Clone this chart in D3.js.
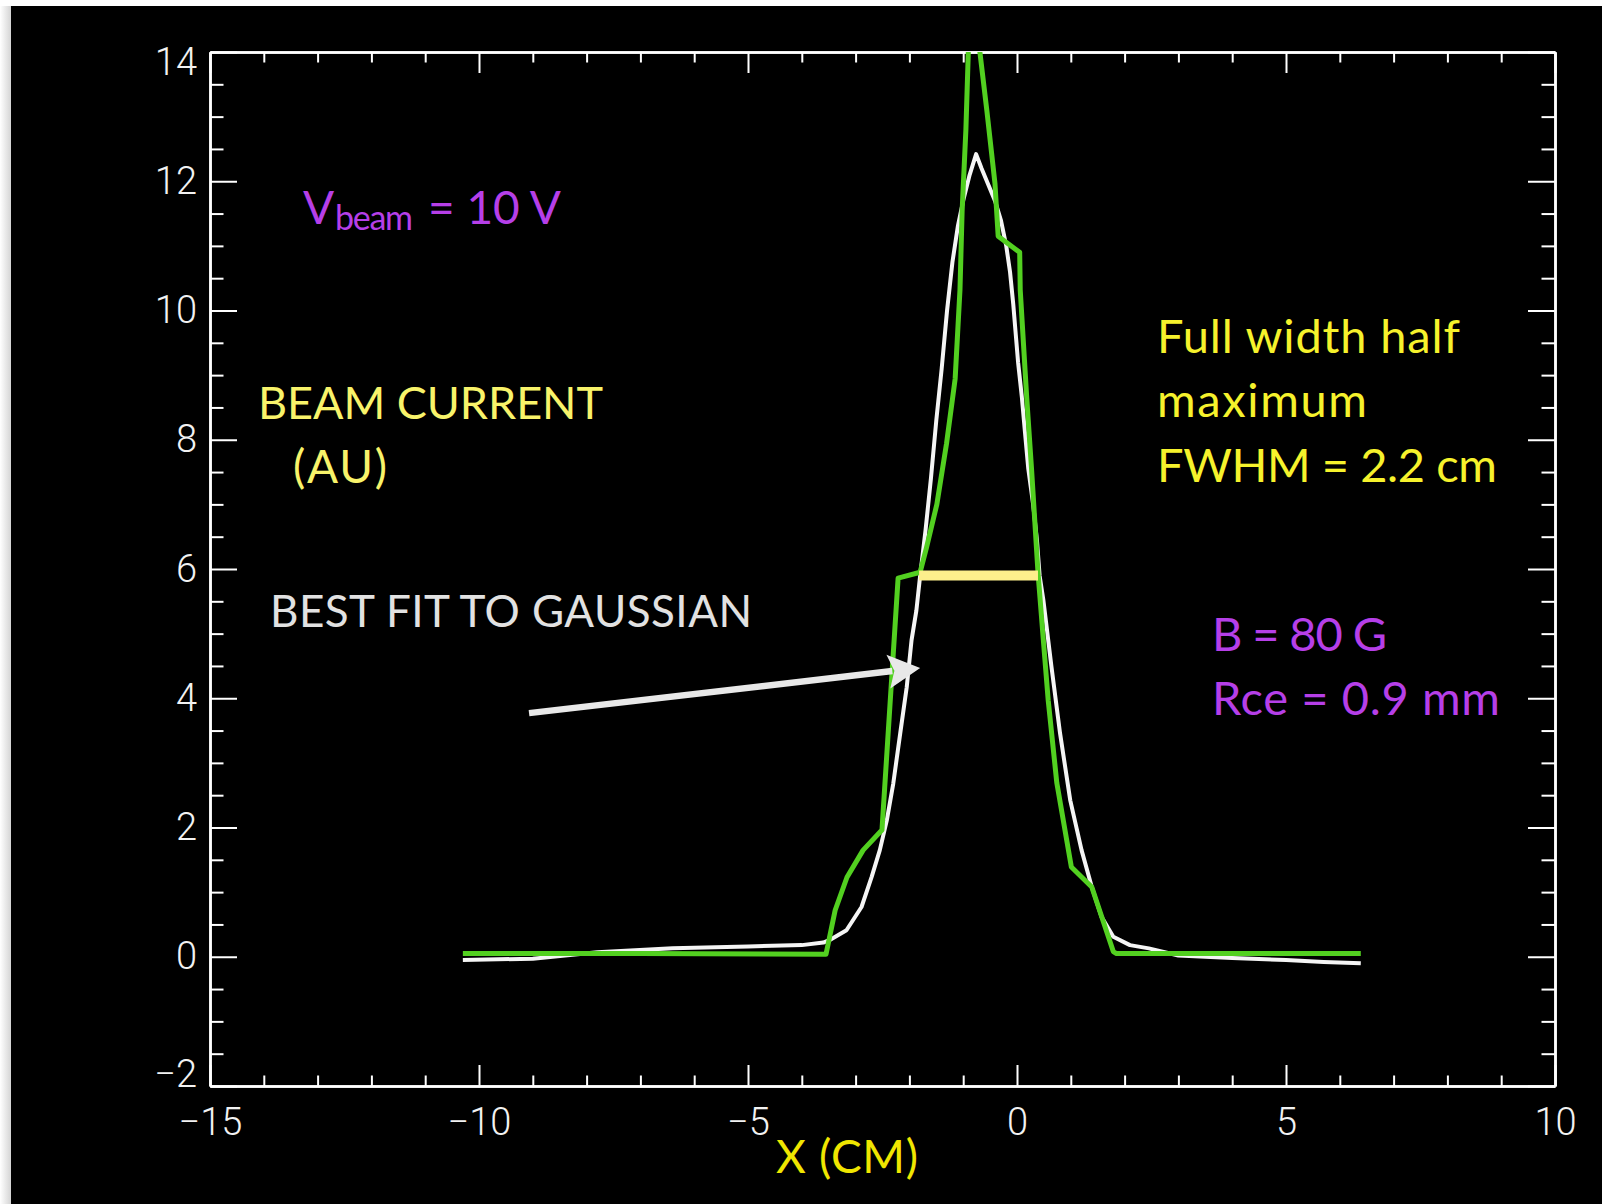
<!DOCTYPE html>
<html>
<head>
<meta charset="utf-8">
<script src="https://cdn.jsdelivr.net/npm/d3@7"></script>
<style>
  html, body { margin: 0; padding: 0; background: #fff; }
  #grafico { width: 1602px; height: 1204px; }
</style>
</head>
<body>
<div id="grafico"></div>
<script>

// ticks
const xMajorTicks = [-15, -10, -5, 0, 5, 10];
const yMajorTicks = [-2, 0, 2, 4, 6, 8, 10, 12, 14];

// measured beam profile (green)
const medidoX = [-10.30, -7.00, -3.55, -3.38, -3.16, -2.86, -2.51, -2.21, -1.80, -1.68, -1.49, -1.31, -1.15, -1.06, -1.02, -0.95, -0.86,
  -0.69, -0.56, -0.41, -0.35, 0.05, 0.06, 0.18, 0.27, 0.39, 0.48, 0.58, 0.74, 1.01, 1.39, 1.79, 1.85, 4.00, 6.39];
const medidoY = [0.05, 0.05, 0.04, 0.72, 1.23, 1.65, 1.96, 5.86, 5.95, 6.34, 7.00, 7.94, 8.94, 10.32, 11.54, 12.80, 15.20,
  14.00, 13.09, 11.97, 11.15, 10.90, 10.32, 8.66, 7.55, 5.95, 5.00, 3.97, 2.69, 1.39, 1.08, 0.08, 0.05, 0.05, 0.05];

// gaussian fit (white)
const ajusteX = [-10.30, -9.00, -7.80, -6.40, -5.00, -4.00, -3.60, -3.48, -3.17, -2.89, -2.70, -2.55, -2.42, -2.30, -2.17, -2.05,
  -1.96, -1.87, -1.80, -1.70, -1.60, -1.50, -1.40, -1.30, -1.20, -1.10, -1.00, -0.88, -0.76, -0.66, -0.56, -0.41, -0.30, -0.20,
  -0.13, -0.07, -0.02, 0.02, 0.09, 0.15, 0.21, 0.30, 0.37, 0.42, 0.49, 0.64, 0.80, 0.99, 1.20, 1.39, 1.57, 1.79, 2.10, 2.45,
  3.00, 4.00, 5.00, 5.70, 6.39];
const ajusteY = [-0.05, -0.03, 0.07, 0.13, 0.16, 0.18, 0.22, 0.26, 0.41, 0.77, 1.24, 1.65, 2.11, 2.68, 3.46, 4.17,
  4.90, 5.36, 5.90, 6.60, 7.40, 8.30, 9.10, 10.00, 10.75, 11.30, 11.70, 12.10, 12.42, 12.20, 12.00, 11.70, 11.40, 11.00,
  10.60, 10.10, 9.60, 9.20, 8.66, 8.10, 7.55, 7.00, 6.45, 5.90, 5.52, 4.49, 3.46, 2.42, 1.65, 1.08, 0.62, 0.31, 0.18, 0.13,
  0.02, -0.02, -0.05, -0.08, -0.10];

// FWHM bar and arrow (data coords)
const fwhmX = [-1.82, 0.39];
const fwhmY = 5.9;
const flechaX = [-9.07, -1.80];
const flechaY = [3.77, 4.47];

const graficar = () => {

  /**************************************************
   * Dimensions
  ***************************************************/
  const width = 1602;
  const height = 1204;
  const marginLeft = 210;
  const marginRight = 47;
  const marginTop = 52;
  const marginBottom = 118;
  const plotW = width - marginLeft - marginRight;
  const plotH = height - marginTop - marginBottom;

  const xScale = d3.scaleLinear().domain([-15, 10]).range([marginLeft, width - marginRight]);
  const yScale = d3.scaleLinear().domain([-2, 14]).range([height - marginBottom, marginTop]);

  const svg = d3.select("#grafico")
    .append("svg")
    .attr("width", width)
    .attr("height", height);

  // slide background + left shadow
  const defs = svg.append("defs");
  const grad = defs.append("linearGradient").attr("id", "sombra");
  grad.append("stop").attr("offset", "0%").attr("stop-color", "#ffffff");
  grad.append("stop").attr("offset", "100%").attr("stop-color", "#d4d4d4");
  svg.append("rect").attr("x", 0).attr("y", 6).attr("width", 11).attr("height", height).attr("fill", "url(#sombra)");
  svg.append("rect").attr("x", 11).attr("y", 6).attr("width", width - 11).attr("height", height - 6).attr("fill", "#000");

  defs.append("clipPath").attr("id", "recorte")
    .append("rect")
    .attr("x", marginLeft).attr("y", marginTop)
    .attr("width", plotW).attr("height", plotH);

  /**************************************************
   * Axis (IDL style box, ticks inward)
  ***************************************************/
  const xMinor = d3.range(-15, 10.01, 1).filter(v => v % 5 !== 0);
  const yMinor = d3.range(-2, 14.01, 0.5).filter(v => v % 2 !== 0);
  const fmt = d => d < 0 ? "\u2212" + Math.abs(d) : String(d);

  const estiloEje = g => {
    g.selectAll("path.domain").attr("stroke", "#fff").attr("stroke-width", 2.5);
    g.selectAll(".tick line").attr("stroke", "#fff").attr("stroke-width", 2);
    g.selectAll(".tick text")
      .attr("fill", "#f2f2f2")
      .style("font-family", "Roboto, 'DejaVu Sans', sans-serif")
      .style("font-weight", 300)
      .style("font-size", "38px");
  };

  // bottom
  svg.append("g")
    .attr("transform", `translate(0,${height - marginBottom})`)
    .call(d3.axisBottom(xScale).tickValues(xMajorTicks).tickFormat(fmt)
      .tickSizeInner(-21).tickSizeOuter(0).tickPadding(22))
    .call(estiloEje);
  svg.append("g")
    .attr("transform", `translate(0,${height - marginBottom})`)
    .call(d3.axisBottom(xScale).tickValues(xMinor).tickFormat("").tickSizeInner(-10.5).tickSizeOuter(0))
    .call(estiloEje);

  // top
  svg.append("g")
    .attr("transform", `translate(0,${marginTop})`)
    .call(d3.axisTop(xScale).tickValues(xMajorTicks).tickFormat("").tickSizeInner(-21).tickSizeOuter(0))
    .call(estiloEje);
  svg.append("g")
    .attr("transform", `translate(0,${marginTop})`)
    .call(d3.axisTop(xScale).tickValues(xMinor).tickFormat("").tickSizeInner(-10.5).tickSizeOuter(0))
    .call(estiloEje);

  // left
  const ejeY = svg.append("g")
    .attr("transform", `translate(${marginLeft},0)`)
    .call(d3.axisLeft(yScale).tickValues(yMajorTicks).tickFormat(fmt)
      .tickSizeInner(-27).tickSizeOuter(0).tickPadding(13))
    .call(estiloEje);
  svg.append("g")
    .attr("transform", `translate(${marginLeft},0)`)
    .call(d3.axisLeft(yScale).tickValues(yMinor).tickFormat("").tickSizeInner(-13.5).tickSizeOuter(0))
    .call(estiloEje);
  // end labels kept inside the box like IDL does
  ejeY.selectAll(".tick text")
    .attr("dy", d => d === 14 ? "0.58em" : d === -2 ? "0.02em" : "0.32em");

  // right
  svg.append("g")
    .attr("transform", `translate(${width - marginRight},0)`)
    .call(d3.axisRight(yScale).tickValues(yMajorTicks).tickFormat("").tickSizeInner(-27).tickSizeOuter(0))
    .call(estiloEje);
  svg.append("g")
    .attr("transform", `translate(${width - marginRight},0)`)
    .call(d3.axisRight(yScale).tickValues(yMinor).tickFormat("").tickSizeInner(-13.5).tickSizeOuter(0))
    .call(estiloEje);

  /**************************************************
   * Lines
  ***************************************************/
  const linea = d3.line().x(d => xScale(d[0])).y(d => yScale(d[1]));
  const capa = svg.append("g").attr("clip-path", "url(#recorte)");

  capa.append("path")
    .datum(d3.zip(ajusteX, ajusteY))
    .attr("d", linea)
    .attr("fill", "none")
    .attr("stroke", "#f5f5f5")
    .attr("stroke-width", 4)
    .attr("stroke-linejoin", "round");

  capa.append("path")
    .datum(d3.zip(medidoX, medidoY))
    .attr("d", linea)
    .attr("fill", "none")
    .attr("stroke", "#52d020")
    .attr("stroke-width", 5)
    .attr("stroke-linejoin", "round");

  // FWHM bar
  capa.append("line")
    .attr("x1", xScale(fwhmX[0])).attr("x2", xScale(fwhmX[1]))
    .attr("y1", yScale(fwhmY)).attr("y2", yScale(fwhmY))
    .attr("stroke", "#fdef8c")
    .attr("stroke-width", 10);

  /**************************************************
   * Arrow
  ***************************************************/
  const x0 = xScale(flechaX[0]), y0 = yScale(flechaY[0]);
  const x1 = xScale(flechaX[1]), y1 = yScale(flechaY[1]);
  const largo = Math.hypot(x1 - x0, y1 - y0);
  const ux = (x1 - x0) / largo, uy = (y1 - y0) / largo;
  const cabeza = 32, ancho = 17;
  const bx = x1 - ux * cabeza, by = y1 - uy * cabeza;

  svg.append("line")
    .attr("x1", x0).attr("y1", y0)
    .attr("x2", bx + ux * 4).attr("y2", by + uy * 4)
    .attr("stroke", "#e8e8e8")
    .attr("stroke-width", 6.5);
  svg.append("path")
    .attr("d", `M${x1},${y1}L${bx - uy * ancho},${by + ux * ancho}L${bx + ux * 6},${by + uy * 6}L${bx + uy * ancho},${by - ux * ancho}Z`)
    .attr("fill", "#e8e8e8");

  /**************************************************
   * Text annotations
  ***************************************************/
  const fuente = "Lato, 'Open Sans', sans-serif";
  const morado = "#b63fe8";

  const vb = svg.append("text")
    .attr("fill", morado)
    .style("font-family", fuente)
    .style("font-size", "46px");
  vb.append("tspan").attr("x", 303).attr("y", 224).text("V");
  vb.append("tspan").attr("x", 335).attr("y", 230).style("font-size", "34px")
    .attr("textLength", 78).attr("lengthAdjust", "spacing").text("beam");
  vb.append("tspan").attr("x", 428).attr("y", 224)
    .attr("textLength", 133).attr("lengthAdjust", "spacing").text("= 10 V");

  // ancho = measured width of the text in the slide
  const texto = (x, y, str, color, ancho, size) => svg.append("text")
    .attr("x", x).attr("y", y)
    .attr("fill", color)
    .attr("textLength", ancho)
    .attr("lengthAdjust", "spacing")
    .style("font-family", fuente)
    .style("font-size", size + "px")
    .text(str);

  texto(258, 419, "BEAM CURRENT", "#f8f36a", 345, 45);
  texto(293, 483, "(AU)", "#f8f36a", 94, 46);
  texto(270, 627, "BEST FIT TO GAUSSIAN", "#e2e2e2", 482, 44);
  texto(1157, 353, "Full width half", "#f6f22c", 303, 47);
  texto(1157, 417, "maximum", "#f6f22c", 210, 47);
  texto(1157, 482, "FWHM = 2.2 cm", "#f6f22c", 340, 47);
  texto(1212, 651, "B = 80 G", morado, 175, 47);
  texto(1212, 715, "Rce = 0.9 mm", morado, 288, 47);
  texto(776, 1173, "X (CM)", "#f0e600", 142, 46);
};

graficar();
</script>
</body>
</html>
